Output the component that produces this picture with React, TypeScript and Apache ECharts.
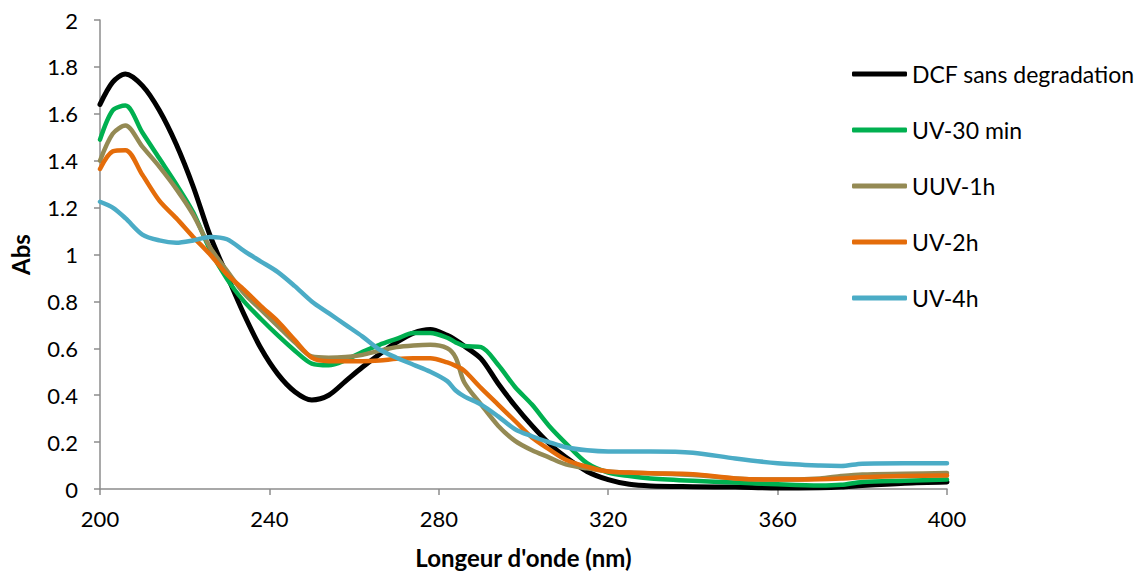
import React, { useEffect, useRef } from "react";
import * as echarts from "echarts";

// Wavelength grid (nm) shared by every spectrum
const wavelengths = [
  200, 203, 206, 210, 214, 218, 222, 226, 230, 234, 238, 242, 246, 250, 254, 258, 262, 266, 270, 274,
  278, 282, 284, 286, 290, 294, 298, 302, 306, 310, 315, 320, 325, 330, 340, 350, 360, 370, 375, 380,
  390, 400,
];

// Absorbance values for each treatment
const dcfSansDegradation = [
  1.64, 1.735, 1.77, 1.72, 1.615, 1.47, 1.29, 1.08, 0.91, 0.745, 0.6, 0.49, 0.415, 0.38, 0.4, 0.46,
  0.52, 0.575, 0.625, 0.665, 0.68, 0.655, 0.635, 0.61, 0.555, 0.45, 0.355, 0.27, 0.195, 0.135, 0.075,
  0.04, 0.02, 0.013, 0.01, 0.008, 0.004, 0.005, 0.008, 0.015, 0.025, 0.03,
];
const uv30min = [
  1.49, 1.615, 1.635, 1.52, 1.41, 1.3, 1.18, 1.02, 0.895, 0.8, 0.725, 0.655, 0.59, 0.535, 0.528, 0.55,
  0.585, 0.615, 0.64, 0.665, 0.665, 0.645, 0.625, 0.61, 0.605, 0.53, 0.435, 0.36, 0.27, 0.195, 0.11,
  0.07, 0.055, 0.045, 0.035, 0.028, 0.02, 0.015, 0.018, 0.03, 0.035, 0.04,
];
const uuv1h = [
  1.4, 1.515, 1.55, 1.46, 1.375, 1.28, 1.17, 1.03, 0.93, 0.835, 0.765, 0.695, 0.625, 0.565, 0.56,
  0.563, 0.572, 0.59, 0.605, 0.612, 0.615, 0.6, 0.56, 0.455, 0.36, 0.27, 0.205, 0.165, 0.135, 0.105,
  0.088, 0.075, 0.07, 0.067, 0.06, 0.045, 0.04, 0.045, 0.055, 0.062, 0.065, 0.068,
];
const uv2h = [
  1.365, 1.44, 1.445, 1.34, 1.23, 1.155, 1.075, 1.0, 0.915, 0.85, 0.78, 0.715, 0.635, 0.56, 0.545,
  0.545, 0.545, 0.548, 0.555, 0.558, 0.558, 0.54, 0.525, 0.505, 0.43, 0.36, 0.29, 0.22, 0.17, 0.125,
  0.095, 0.075, 0.07, 0.067, 0.063, 0.045, 0.04, 0.042, 0.045, 0.05, 0.055, 0.058,
];
const uv4h = [
  1.225, 1.2, 1.155, 1.085, 1.06, 1.05, 1.06, 1.075, 1.065, 1.015, 0.97, 0.925, 0.865, 0.8, 0.75,
  0.7, 0.65, 0.595, 0.56, 0.53, 0.5, 0.46, 0.42, 0.395, 0.36, 0.31, 0.255, 0.225, 0.2, 0.178, 0.165,
  0.16, 0.16, 0.16, 0.155, 0.13, 0.11, 0.1, 0.098, 0.108, 0.11, 0.11,
];

const seriesNames = ["DCF sans degradation", "UV-30 min", "UUV-1h", "UV-2h", "UV-4h"];
const seriesValues = [dcfSansDegradation, uv30min, uuv1h, uv2h, uv4h];
const seriesColors = ["#000000", "#00B050", "#948A54", "#E46C0A", "#4BACC6"];
const seriesWidths = [5, 4.5, 4.5, 4.5, 4.5];

const xTicks = { min: 200, max: 400, interval: 40 };
const yTicks = { min: 0, max: 2, interval: 0.2 };

const FONT = "Lato";

export default function App() {
  const ref = useRef<HTMLDivElement>(null);

  useEffect(() => {
    if (!ref.current) return;
    const chart = echarts.init(ref.current, null, { renderer: "svg" });

    const axisLine = { show: true, lineStyle: { color: "#8c8c8c", width: 1.5 } };
    const axisTick = { show: true, inside: false, length: 6, lineStyle: { color: "#8c8c8c", width: 1.5 } };

    chart.setOption({
      animation: false,
      backgroundColor: "#ffffff",
      grid: { left: 100, right: 199, top: 20, bottom: 86, containLabel: false },
      legend: {
        orient: "vertical",
        left: 847,
        top: 56,
        itemWidth: 55,
        itemHeight: 5,
        itemGap: 30,
        icon: "roundRect",
        textStyle: { fontFamily: FONT, fontSize: 23, color: "#000000", lineHeight: 26 },
        data: seriesNames,
      },
      xAxis: {
        type: "value",
        min: xTicks.min,
        max: xTicks.max,
        interval: xTicks.interval,
        name: "Longeur d'onde (nm)",
        nameLocation: "middle",
        nameGap: 56,
        nameTextStyle: { fontFamily: FONT, fontSize: 24, fontWeight: "bold", color: "#000000" },
        axisLine,
        axisTick,
        splitLine: { show: false },
        axisLabel: { fontFamily: FONT, fontSize: 22, color: "#000000", margin: 18 },
      },
      yAxis: {
        type: "value",
        min: yTicks.min,
        max: yTicks.max,
        interval: yTicks.interval,
        name: "Abs",
        nameLocation: "middle",
        nameGap: 68,
        nameRotate: 90,
        nameTextStyle: { fontFamily: FONT, fontSize: 24, fontWeight: "bold", color: "#000000" },
        axisLine,
        axisTick,
        splitLine: { show: false },
        axisLabel: {
          fontFamily: FONT,
          fontSize: 22,
          color: "#000000",
          margin: 22,
          formatter: (v: number) => String(+v.toFixed(1)),
        },
      },
      series: seriesNames.map((name, i) => ({
        name,
        type: "line",
        data: wavelengths.map((w, j) => [w, seriesValues[i][j]]),
        smooth: 0.3,
        showSymbol: false,
        symbol: "none",
        itemStyle: { color: seriesColors[i] },
        lineStyle: { color: seriesColors[i], width: seriesWidths[i], cap: "round", join: "round" },
      })),
    });

    return () => chart.dispose();
  }, []);

  return (
    <div
      ref={ref}
      style={{ position: "fixed", left: 0, top: 0, width: 1146, height: 575, background: "#fff" }}
    />
  );
}
